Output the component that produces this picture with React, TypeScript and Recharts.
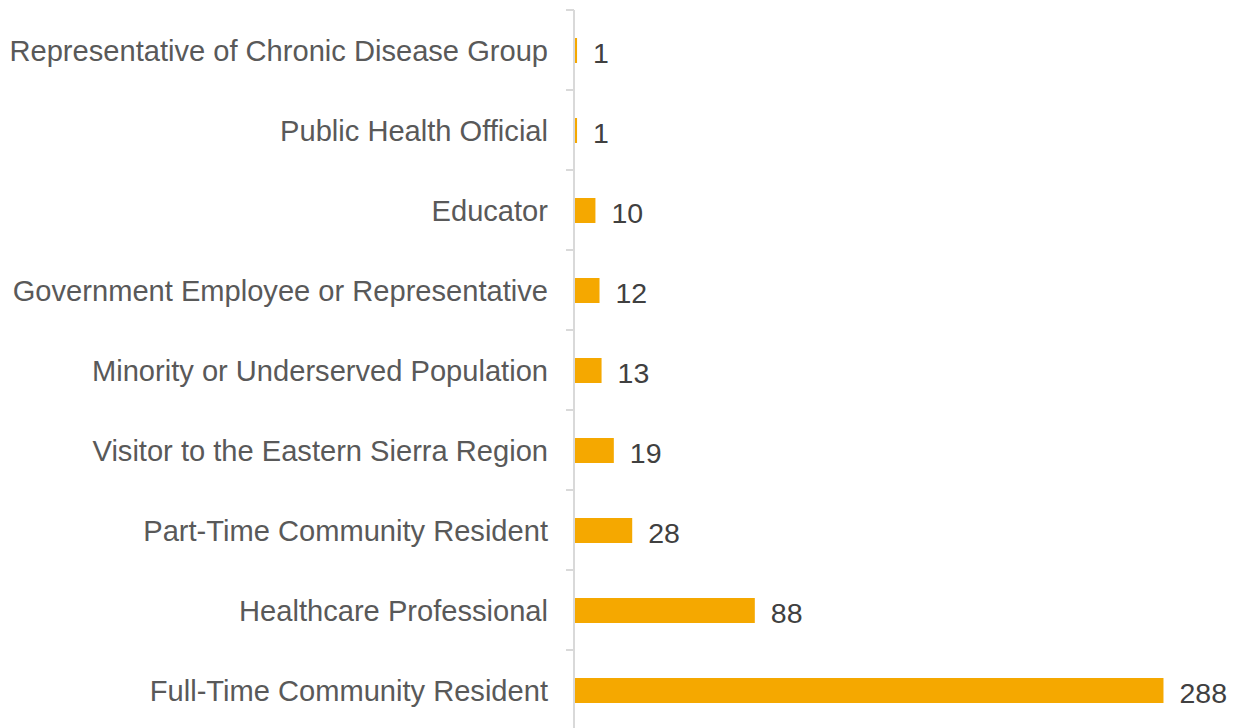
import React from 'react';
import { BarChart, Bar, XAxis, YAxis, LabelList } from 'recharts';

const categories = [
  'Representative of Chronic Disease Group',
  'Public Health Official',
  'Educator',
  'Government Employee or Representative',
  'Minority or Underserved Population',
  'Visitor to the Eastern Sierra Region',
  'Part-Time Community Resident',
  'Healthcare Professional',
  'Full-Time Community Resident',
];

const counts = [1, 1, 10, 12, 13, 19, 28, 88, 288];

const chartData = categories.map((name, i) => ({ name, value: counts[i] }));

const BAR_COLOR = '#F5A800';
const FONT = '"Liberation Sans", Arial, sans-serif';

const CategoryTick = (props: any) => {
  const { x, y, payload } = props;
  const band = 80;
  return (
    <g>
      <line x1={x + 18} x2={x + 26} y1={y - band / 2} y2={y - band / 2} stroke="#d9d9d9" strokeWidth={2} />
      <text x={x} y={y + 1} dy="0.355em" textAnchor="end" fill="#595959" fontSize={29.1} fontFamily={FONT}>
        {payload.value}
      </text>
    </g>
  );
};

const ValueLabel = (props: any) => {
  const { x, y, width, height, value } = props;
  return (
    <text
      x={x + width + 16}
      y={y + height / 2 + 2}
      dy="0.355em"
      textAnchor="start"
      fill="#404040"
      fontSize={28.5}
      fontFamily={FONT}
    >
      {value}
    </text>
  );
};

const App: React.FC = () => {
  return (
    <div style={{ height: 720, overflow: 'hidden' }}>
      <BarChart
        width={1235}
        height={722}
        data={chartData}
        layout="vertical"
        margin={{ top: 2, right: 55, bottom: 0, left: 0 }}
      >
        <XAxis type="number" domain={[0, 300]} hide />
        <YAxis
          type="category"
          dataKey="name"
          width={567}
          axisLine={{ stroke: '#d9d9d9', strokeWidth: 2, transform: 'translate(-1,0)' }}
          tickLine={false}
          tickMargin={27}
          tickSize={0}
          interval={0}
          tick={<CategoryTick />}
        />
        <Bar dataKey="value" fill={BAR_COLOR} barSize={25} isAnimationActive={false}>
          <LabelList dataKey="value" content={<ValueLabel />} />
        </Bar>
      </BarChart>
    </div>
  );
};

export default App;
